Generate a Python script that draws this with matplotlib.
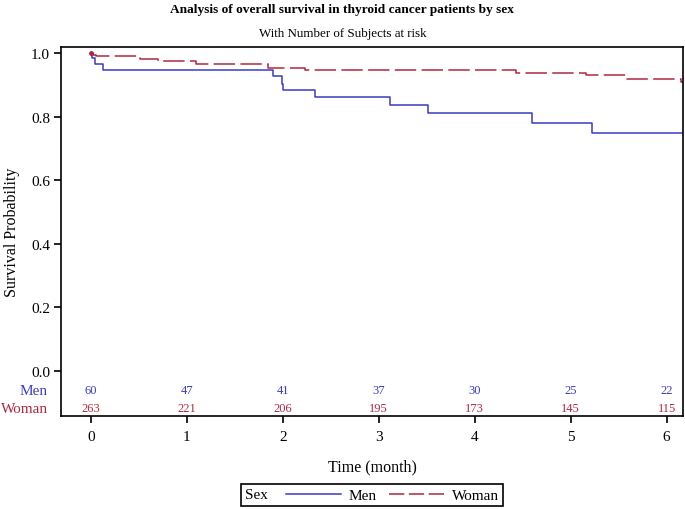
import matplotlib
matplotlib.use("Agg")
import matplotlib.pyplot as plt
from matplotlib.lines import Line2D
from matplotlib.offsetbox import HPacker
import numpy as np

plt.rcParams['font.family'] = ['Liberation Serif', 'DejaVu Serif']

# Kaplan-Meier step points
men_time = [0, 0.014, 0.04, 0.13, 1.90, 1.99, 2.00, 2.34, 3.12, 3.51, 4.60, 5.22, 6.19]
men_surv = [1.0, 0.984, 0.967, 0.948, 0.929, 0.904, 0.885, 0.861, 0.836, 0.811, 0.781, 0.750, 0.750]

woman_time = [0, 0.02, 0.05, 0.51, 0.70, 1.10, 1.85, 2.23, 4.43, 5.16, 5.58, 6.15, 6.19]
woman_surv = [1.0, 0.995, 0.990, 0.981, 0.976, 0.967, 0.953, 0.948, 0.938, 0.932, 0.918, 0.910, 0.910]

# number at risk
risk_times = [0, 1, 2, 3, 4, 5, 6]
men_risk = [60, 47, 41, 37, 30, 25, 22]
woman_risk = [263, 221, 206, 195, 173, 145, 115]

men_col = '#3b3bc8'
woman_col = '#b0283f'

fig = plt.figure(figsize=(6.85, 5.1), dpi=100)
ax = fig.add_axes([61/685, 1-417/510, 622/685, 369/510])

ax.step(men_time, men_surv, where='post', color=men_col, lw=1.1)
ax.step(woman_time, woman_surv, where='post', color=woman_col, lw=1.1,
        linestyle=(0, (14, 3.5)))
ax.plot(woman_time[0], woman_surv[0], 'o', ms=2.5, color=woman_col)

ax.set_xlim(-0.31, 6.17)
ax.set_ylim(-0.1415, 1.019)
ax.set_xticks(risk_times)
ax.set_yticks([0.0, 0.2, 0.4, 0.6, 0.8, 1.0])
ax.set_yticklabels(['0.0', '0.2', '0.4', '0.6', '0.8', '1.0'])
ax.tick_params(direction='out', length=5, width=1.2, labelsize=11, pad=3)
ax.tick_params(axis='x', pad=5)
for s in ax.spines.values():
    s.set_linewidth(1.2)

# risk table inside the axes
for t, m, w in zip(risk_times, men_risk, woman_risk):
    ax.text(t, -0.06, str(m), color=men_col, ha='center', va='center', fontsize=9)
    ax.text(t, -0.117, str(w), color=woman_col, ha='center', va='center', fontsize=9)
tr = ax.get_yaxis_transform()
ax.text(-0.021, -0.06, 'Men', color=men_col, ha='right', va='center', fontsize=11, transform=tr)
ax.text(-0.021, -0.117, 'Woman', color=woman_col, ha='right', va='center', fontsize=11, transform=tr)

ax.set_xlabel('Time (month)', fontsize=11.5, labelpad=11)
ax.set_ylabel('Survival Probability', fontsize=11.5, labelpad=8)

fig.text(0.5, 1-10/510, 'Analysis of overall survival in thyroid cancer patients by sex',
         ha='center', va='center', fontsize=9.6, fontweight='bold')
fig.text(0.5, 1-34/510, 'With Number of Subjects at risk', ha='center', va='center', fontsize=9.4)

h1 = Line2D([], [], color=men_col, lw=1.1)
h2 = Line2D([], [], color=woman_col, lw=1.1, linestyle=(0, (10, 3)))
leg = fig.legend([h1, h2], ['Men', 'Woman'], title='Sex', ncol=2, loc='center',
                 bbox_to_anchor=(372/685, 1-496/510), fontsize=11, title_fontsize=11,
                 fancybox=False, edgecolor='black', framealpha=1, handlelength=3.6,
                 columnspacing=0.8, handletextpad=0.5, borderpad=0.25)
leg.get_frame().set_linewidth(1.2)
# put the title on the same row as the entries
fs = leg._fontsize
leg._legend_box = HPacker(pad=leg.borderpad*fs, sep=1.2*fs, align='center',
                          children=[leg._legend_title_box, leg._legend_handle_box])
leg._legend_box.set_figure(fig)
leg._legend_box.set_offset(leg._findoffset)

fig.savefig('out.png', dpi=100)
